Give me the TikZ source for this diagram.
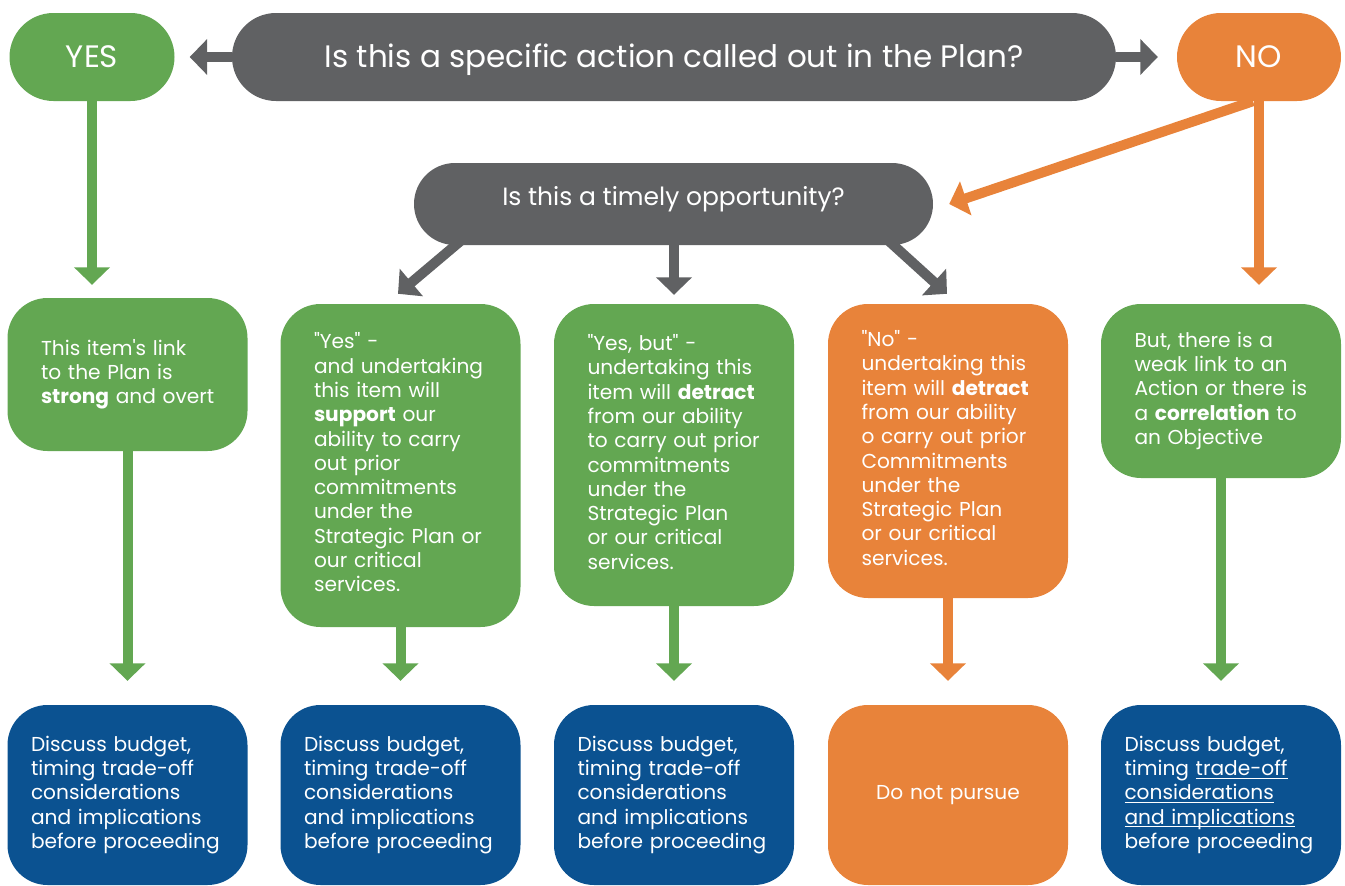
\documentclass[tikz,border=0pt]{standalone}
\usepackage{fontspec}
\setmainfont{Poppins}[Ligatures=TeXOff]
\usepackage{xcolor}
\usetikzlibrary{arrows, arrows.meta}

\definecolor{pgreen}{HTML}{63A752}
\definecolor{pgray}{HTML}{606163}
\definecolor{porange}{HTML}{E8833A}
\definecolor{pblue}{HTML}{0B5291}

% underlined words
\newsavebox\ulbox
\newcommand\uln[1]{\leavevmode\sbox\ulbox{#1}\rlap{\rule[-3pt]{\wd\ulbox}{1pt}}\usebox\ulbox}
% fixed lines, no wrapping
\newcommand\lines[1]{\begin{tabular}{@{}l@{}}#1\end{tabular}}

\tikzset{
  pill/.style={rounded corners=44pt, text=white, inner sep=0pt, minimum height=88pt,
    text height=21.6pt, text depth=1.5pt, font=\fontsize{31}{36}\selectfont},
  card/.style={rounded corners=40pt, text=white, inner sep=0pt, minimum width=240pt,
    text width=173pt, align=left, font=\fontsize{20.15}{24.3}\selectfont},
  endcard/.style={card, text width=193pt, minimum height=180pt},
  arr/.style={line width=10pt, -{Triangle[width=35pt,length=17.5pt]}}
}

\begin{document}
\begin{tikzpicture}[x=1pt,y=-1pt]
\useasboundingbox (0,0) rectangle (1345,886);

% first question
\node[pill, fill=pgreen, minimum width=165pt] (yes) at (92,57) {YES};
\node[pill, fill=pgray, minimum width=884pt] (plan) at (674,57) {Is this a specific action called out in the Plan?};
\node[pill, fill=porange, minimum width=164pt] (no) at (1259,57) {NO};

% second question
\node[pill, rounded corners=41pt, fill=pgray, minimum width=519pt, minimum height=82pt, text height=17.7pt, text depth=14pt, font=\fontsize{25}{30}\selectfont] (timely) at (673.5,204) {Is this a timely opportunity?};

% answers
\node[card, fill=pgreen, minimum height=153pt] (link) at (127.5,374.5) {\lines{This item\symbol{39}s link\\to the Plan is\\\textbf{strong} and overt}};
\node[card, fill=pgreen, minimum height=323pt] (support) at (400.5,465.5) {\lines{"Yes" -\\and undertaking\\this item will\\\textbf{support} our\\ability to carry\\out prior\\commitments\\under the\\Strategic Plan or\\our critical\\services.}};
\node[card, fill=pgreen, minimum height=302pt] (yesbut) at (674,455) {\lines{"Yes, but" -\\undertaking this\\item will \textbf{detract}\\from our ability\\to carry out prior\\commitments\\under the\\Strategic Plan\\or our critical\\services.}};
\node[card, fill=porange, minimum height=294pt] (nope) at (948,451) {\lines{"No" -\\undertaking this\\item will \textbf{detract}\\from our ability\\o carry out prior\\Commitments\\under the\\Strategic Plan\\or our critical\\services.}};
\node[card, fill=pgreen, minimum height=174pt] (weak) at (1221,391) {\lines{But, there is a\\weak link to an\\Action or there is\\a \textbf{correlation} to\\an Objective}};

% outcomes
\node[endcard, fill=pblue] (act1) at (127.5,795) {\lines{Discuss budget,\\timing trade-off\\considerations\\and implications\\before proceeding}};
\node[endcard, fill=pblue] (act2) at (400.5,795) {\lines{Discuss budget,\\timing trade-off\\considerations\\and implications\\before proceeding}};
\node[endcard, fill=pblue] (act3) at (674,795) {\lines{Discuss budget,\\timing trade-off\\considerations\\and implications\\before proceeding}};
\node[endcard, fill=porange, align=center] (stop) at (948,795) {\lines{Do not pursue}};
\node[endcard, fill=pblue] (act5) at (1221,795) {\lines{Discuss budget,\\timing \uln{trade-off}\\\uln{considerations}\\\uln{and implications}\\before proceeding}};

% arrows
\draw[arr, pgray, shorten >=15pt] (plan.west) -- (yes.east);
\draw[arr, pgray, shorten >=19pt] (plan.east) -- (no.west);
\draw[arr, pgreen, shorten >=13pt] (yes.south) -- (yes.south |- link.north);
\draw[arr, porange, shorten >=19pt] (no.south) -- (no.south |- weak.north);
\draw[arr, porange] ([xshift=-6pt]no.south) -- ([xshift=16pt]timely.east);

\draw[arr, pgray] ([xshift=56pt,yshift=12pt]timely.south west) -- ([xshift=-2.5pt,yshift=10pt]support.north);
\draw[arr, pgray, shorten >=9pt] (timely.south -| yesbut.north) -- (yesbut.north);
\draw[arr, pgray] ([xshift=-53pt,yshift=12pt]timely.south east) -- ([xshift=-1pt,yshift=10pt]nope.north);

\draw[arr, pgreen, shorten >=24pt] (link.south) -- (link.south |- act1.north);
\draw[arr, pgreen, shorten >=24pt] (support.south) -- (support.south |- act2.north);
\draw[arr, pgreen, shorten >=24pt] (yesbut.south) -- (yesbut.south |- act3.north);
\draw[arr, porange, shorten >=24pt] (nope.south) -- (nope.south |- stop.north);
\draw[arr, pgreen, shorten >=24pt] (weak.south) -- (weak.south |- act5.north);
\end{tikzpicture}
\end{document}
